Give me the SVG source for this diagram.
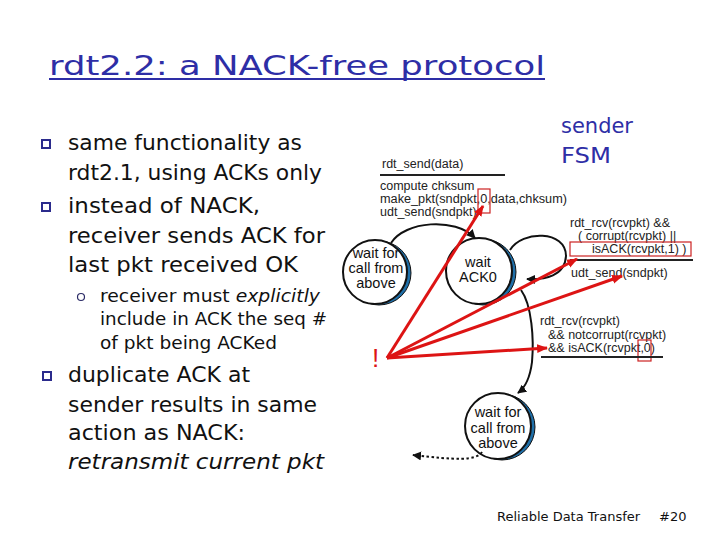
<svg xmlns="http://www.w3.org/2000/svg" width="720" height="540" viewBox="0 0 720 540">
<style>
.title{font-family:"DejaVu Sans",sans-serif;font-size:27px;fill:#2e2ea6;}
.body{font-family:"DejaVu Sans",sans-serif;font-size:21px;fill:#111;}
.sub{font-family:"DejaVu Sans",sans-serif;font-size:17px;fill:#111;}
.blue{font-family:"DejaVu Sans",sans-serif;font-size:21px;fill:#2e2ea6;}
.lbl{font-family:"Liberation Sans",Arial,sans-serif;font-size:12.5px;fill:#222;}
.st{font-family:"Liberation Sans",Arial,sans-serif;font-size:14.5px;fill:#111;text-anchor:middle;}
.foot{font-family:"DejaVu Sans",sans-serif;font-size:13px;fill:#111;}
.bul{fill:#fff;stroke:#2b2b8c;stroke-width:2;}
.node{fill:#fff;stroke:#111;stroke-width:2;}
.shade{fill:#1f6fa8;stroke:#111;stroke-width:1;}
.edge{fill:none;stroke:#111;stroke-width:2;}
.red{fill:none;stroke:#dd1414;stroke-width:3;}
.rbox{fill:none;stroke:#cc2222;stroke-width:1.2;}
</style>
<defs>
<marker id="ahk" viewBox="0 0 10 10" refX="9" refY="5" markerWidth="9" markerHeight="9" orient="auto" markerUnits="userSpaceOnUse">
<path d="M0,0 L10,5 L0,10 z" fill="#111"/>
</marker>
<marker id="ahr" viewBox="0 0 10 10" refX="9" refY="5" markerWidth="11" markerHeight="11" orient="auto" markerUnits="userSpaceOnUse">
<path d="M0,1 L10,5 L0,9 z" fill="#dd1414"/>
</marker>
</defs>

<rect width="720" height="540" fill="#fff"/>

<!-- Title -->
<text class="title" x="49" y="75" textLength="496" lengthAdjust="spacingAndGlyphs">rdt2.2: a NACK-free protocol</text>
<rect x="49" y="78" width="496" height="2" fill="#2e2ea6"/>

<!-- Left bullets -->
<rect class="bul" x="42" y="140" width="8" height="8"/>
<text class="body" x="68" y="150" textLength="234" lengthAdjust="spacingAndGlyphs">same functionality as</text>
<text class="body" x="68" y="180" textLength="254" lengthAdjust="spacingAndGlyphs">rdt2.1, using ACKs only</text>
<rect class="bul" x="42" y="203" width="8" height="8"/>
<text class="body" x="68" y="213" textLength="192" lengthAdjust="spacingAndGlyphs">instead of NACK,</text>
<text class="body" x="68" y="243" textLength="257" lengthAdjust="spacingAndGlyphs">receiver sends ACK for</text>
<text class="body" x="68" y="272" textLength="230" lengthAdjust="spacingAndGlyphs">last pkt received OK</text>
<circle cx="81" cy="297" r="3.5" fill="#fff" stroke="#2b2b66" stroke-width="1.2"/>
<text class="sub" x="100" y="302" textLength="220" lengthAdjust="spacingAndGlyphs">receiver must <tspan font-style="italic">explicitly</tspan></text>
<text class="sub" x="100" y="325" textLength="227" lengthAdjust="spacingAndGlyphs">include in ACK the seq #</text>
<text class="sub" x="100" y="349" textLength="177" lengthAdjust="spacingAndGlyphs">of pkt being ACKed</text>
<rect class="bul" x="43" y="372" width="8" height="8"/>
<text class="body" x="68" y="382" textLength="182" lengthAdjust="spacingAndGlyphs">duplicate ACK at</text>
<text class="body" x="68" y="412" textLength="249" lengthAdjust="spacingAndGlyphs">sender results in same</text>
<text class="body" x="68" y="440" textLength="177" lengthAdjust="spacingAndGlyphs">action as NACK:</text>
<text class="body" x="68" y="469" textLength="256" lengthAdjust="spacingAndGlyphs" font-style="italic">retransmit current pkt</text>

<!-- sender FSM label -->
<text class="blue" x="561" y="133" textLength="72" lengthAdjust="spacingAndGlyphs">sender</text>
<text class="blue" x="561" y="163" textLength="50" lengthAdjust="spacingAndGlyphs">FSM</text>

<!-- Nodes -->
<g id="wait-call-0">
<circle class="shade" cx="379" cy="273" r="32"/>
<circle class="node" cx="375" cy="272" r="32"/>
<text class="st" x="376" y="258">wait for</text>
<text class="st" x="376" y="273">call from</text>
<text class="st" x="376" y="288">above</text>
</g>
<g id="wait-ack0">
<circle class="shade" cx="483" cy="272" r="33"/>
<circle class="node" cx="479" cy="271" r="33"/>
<text class="st" x="478" y="267">wait</text>
<text class="st" x="478" y="282">ACK0</text>
</g>
<g id="wait-call-1">
<circle class="shade" cx="502" cy="427" r="33"/>
<circle class="node" cx="498" cy="426" r="33"/>
<text class="st" x="498" y="417">wait for</text>
<text class="st" x="498" y="433">call from</text>
<text class="st" x="498" y="448">above</text>
</g>

<!-- Connectors -->
<g id="connectors">
<path class="edge" d="M391 243 C405 221,455 217,475 238" marker-end="url(#ahk)"/>
<path class="edge" d="M510 250 C522 230,566 230,566 256 C565 276,545 280,527 279" marker-end="url(#ahk)"/>
<path class="edge" d="M521 290 C532 305,534 340,532 362 C530 378,526 387,518 393" marker-end="url(#ahk)"/>
<path class="edge" d="M482 452 C476 461,455 460,413 455" stroke-dasharray="2.5 2.5" stroke-width="2.5" marker-end="url(#ahk)"/>
</g>

<!-- Transition labels -->
<text class="lbl" x="382" y="168">rdt_send(data)</text>
<rect x="380" y="174" width="125" height="2" fill="#222"/>
<text class="lbl" x="380" y="190">compute chksum</text>
<text class="lbl" x="380" y="203" textLength="187" lengthAdjust="spacingAndGlyphs">make_pkt(sndpkt,0,data,chksum)</text>
<text class="lbl" x="380" y="216">udt_send(sndpkt)</text>
<rect class="rbox" x="478" y="189" width="12" height="24"/>

<text class="lbl" x="570" y="227">rdt_rcv(rcvpkt) &amp;&amp;</text>
<text class="lbl" x="578" y="240">( corrupt(rcvpkt) ||</text>
<text class="lbl" x="592" y="253">isACK(rcvpkt,1) )</text>
<rect class="rbox" x="570" y="242" width="121" height="14"/>
<rect x="570" y="259" width="123" height="2" fill="#222"/>
<text class="lbl" x="571" y="277">udt_send(sndpkt)</text>

<text class="lbl" x="540" y="325">rdt_rcv(rcvpkt)</text>
<text class="lbl" x="548" y="339">&amp;&amp; notcorrupt(rcvpkt)</text>
<text class="lbl" x="548" y="352">&amp;&amp; isACK(rcvpkt,0)</text>
<rect class="rbox" x="638" y="340" width="13" height="21"/>
<rect x="541" y="356" width="122" height="2" fill="#222"/>

<!-- Red annotation -->
<text x="372" y="367" font-family="Liberation Sans,Arial,sans-serif" font-size="26" fill="#dd1414">!</text>
<g id="red-arrows">
<line class="red" x1="387" y1="358" x2="483" y2="206" marker-end="url(#ahr)"/>
<line class="red" x1="387" y1="358" x2="577" y2="259" marker-end="url(#ahr)"/>
<line class="red" x1="387" y1="358" x2="622" y2="276" marker-end="url(#ahr)"/>
<line class="red" x1="387" y1="358" x2="547" y2="348" marker-end="url(#ahr)"/>
</g>

<!-- Footer -->
<text class="foot" x="497" y="521">Reliable Data Transfer<tspan x="659">#20</tspan></text>
</svg>
